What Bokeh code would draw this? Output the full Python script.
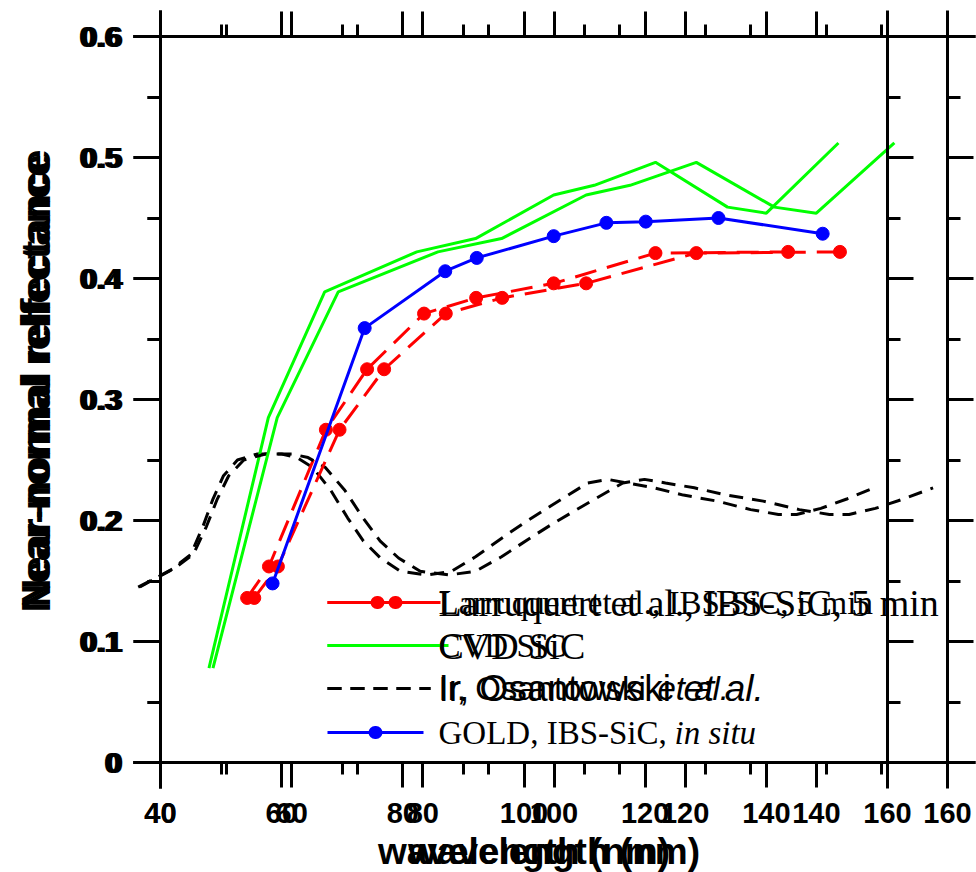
import math
from bokeh.plotting import figure
from bokeh.models import Range1d, LinearAxis, FixedTicker, Label, Arrow
from bokeh.embed import file_html
from bokeh.resources import INLINE

# ---------------- data ----------------
x_ticks = [40, 60, 80, 100, 120, 140, 160]
x_tick_labels = ["40", "60", "80", "100", "120", "140", "160"]
x_minor_ticks = [50, 70, 90, 110, 130, 150]
y_ticks = [0, 0.1, 0.2, 0.3, 0.4, 0.5, 0.6]
y_tick_labels = ["0", "0.1", "0.2", "0.3", "0.4", "0.5", "0.6"]
y_minor_ticks = [0.05, 0.15, 0.25, 0.35, 0.45, 0.55]

red_x = [54.3, 57.9, 67.3, 74.1, 83.5, 92.1, 104.9, 121.7, 143.6]
red_y = [0.136, 0.162, 0.275, 0.325, 0.371, 0.384, 0.396, 0.421, 0.422]

green_x = [48.0, 57.8, 67.1, 82.3, 92.0, 104.9, 111.6, 121.7, 133.6, 140.0, 151.9]
green_y = [0.078, 0.285, 0.389, 0.422, 0.433, 0.469, 0.477, 0.496, 0.459, 0.454, 0.512]

black_x = [36.6, 42.0, 45.0, 47.0, 48.6, 50.4, 52.7, 56.0, 60.0, 62.5, 65.1, 68.1,
           70.9, 73.5, 76.3, 79.6, 84.0, 88.0, 92.0, 96.5, 100.0, 104.4, 110.5,
           113.8, 117.0, 121.4, 126.3, 131.9, 137.4, 142.0, 145.0, 149.0, 153.4, 157.8]
black_y = [0.145, 0.160, 0.172, 0.195, 0.217, 0.237, 0.250, 0.255, 0.255, 0.252, 0.244, 0.225,
           0.202, 0.183, 0.169, 0.158, 0.155, 0.158, 0.170, 0.186, 0.198, 0.212, 0.231,
           0.234, 0.231, 0.227, 0.221, 0.216, 0.209, 0.205, 0.205, 0.210, 0.218, 0.227]

blue_x = [58.5, 73.7, 87.0, 92.2, 104.9, 113.6, 120.1, 132.1, 149.3]
blue_y = [0.148, 0.359, 0.406, 0.417, 0.435, 0.446, 0.447, 0.450, 0.437]

x_title = "wavelength (nm)"
y_title = "Near-normal relfectance"
label_red = "Larruquert et al., IBS-SiC, 5 min"
label_green = "CVD SiC"
label_black = ["Ir, Osantowski", "et al."]
label_blue = ["GOLD, IBS-SiC,", "in situ"]

# ---------------- layout geometry (pixels) ----------------
W, H = 976, 872
PX_X40 = 160                 # x = 40 on both copies
PX_X160_A = 887              # x = 160 on the narrow copy
PX_X160_B = 947              # x = 160 on the wide copy
PX_Y0, PX_Y06 = 762, 36
HL_LEFT, HL_RIGHT = 133, 975  # extent of horizontal axis lines
VL_TOP, VL_BOT = 10, 788      # extent of vertical axis lines

SANS = "Liberation Sans"
SERIF = "Liberation Serif"
RED, GREEN, BLUE = "#ff0000", "#00ff00", "#0000ff"

x0, x1 = x_ticks[0], x_ticks[-1]
sA = (PX_X160_A - PX_X40) / (x1 - x0)
sB = (PX_X160_B - PX_X40) / (x1 - x0)
sy = (PX_Y0 - PX_Y06) / (y_ticks[-1] - y_ticks[0])


def px2x(px, s):
    return x0 + (px - PX_X40) / s


def py2y(py):
    return (PX_Y0 - py) / sy


range_B = Range1d(px2x(0, sB), px2x(W, sB))
range_A = Range1d(px2x(0, sA), px2x(W, sA))
y_range = Range1d(py2y(H), py2y(0))

p = figure(width=W, height=H, x_range=range_B, y_range=y_range,
           output_backend="svg", toolbar_location=None,
           x_axis_type=None, y_axis_type=None, min_border=0)
p.extra_x_ranges = {"a": range_A}
p.outline_line_color = None
p.background_fill_color = "white"
p.border_fill_color = "white"
p.xgrid.visible = False
p.ygrid.visible = False


def style_axis(ax):
    ax.axis_line_width = 3
    ax.axis_line_color = "black"
    ax.major_tick_line_width = 3
    ax.minor_tick_line_width = 3
    ax.major_tick_line_color = "black"
    ax.minor_tick_line_color = "black"
    ax.major_tick_in = 0
    ax.minor_tick_in = 0


for rname, s in (("default", sB), ("a", sA)):
    for side, loc, show in (("below", y_ticks[0], True), ("above", y_ticks[-1], False)):
        ax = LinearAxis(x_range_name=rname, fixed_location=loc,
                        ticker=FixedTicker(ticks=x_ticks, minor_ticks=x_minor_ticks),
                        bounds=(px2x(HL_LEFT, s), px2x(HL_RIGHT, s)))
        style_axis(ax)
        ax.major_tick_out = 25
        ax.minor_tick_out = 12
        ax.major_label_overrides = {t: (l if show else "") for t, l in zip(x_ticks, x_tick_labels)}
        ax.major_label_standoff = 15
        ax.major_label_text_font = SANS
        ax.major_label_text_font_style = "bold"
        ax.major_label_text_font_size = "29px"
        ax.major_label_text_color = "black"
        p.add_layout(ax, side)

# left axis (two copies of its labels, slightly offset) and two right axes
for standoff in (10, 13):
    ax = LinearAxis(fixed_location=x0,
                    ticker=FixedTicker(ticks=y_ticks, minor_ticks=y_minor_ticks),
                    bounds=(py2y(VL_BOT), py2y(VL_TOP)))
    style_axis(ax)
    ax.major_tick_out = 27
    ax.minor_tick_out = 13
    ax.major_label_overrides = {t: l for t, l in zip(y_ticks, y_tick_labels)}
    ax.major_label_standoff = standoff
    ax.major_label_text_font = SANS
    ax.major_label_text_font_style = "bold"
    ax.major_label_text_font_size = "30px"
    ax.major_label_text_color = "black"
    p.add_layout(ax, "left")

for rname in ("a", "default"):
    ax = LinearAxis(x_range_name=rname, fixed_location=x1,
                    ticker=FixedTicker(ticks=y_ticks, minor_ticks=y_minor_ticks),
                    bounds=(py2y(VL_BOT), py2y(VL_TOP)))
    style_axis(ax)
    ax.major_tick_out = 26
    ax.minor_tick_out = 13
    ax.major_label_overrides = {t: "" for t in y_ticks}
    p.add_layout(ax, "right")

# ---------------- series (drawn on both copies of the x scale) ----------------
for rname in ("a", "default"):
    p.line(black_x, black_y, x_range_name=rname, line_color="black", line_width=3,
           line_dash="14 9")
    p.line(green_x, green_y, x_range_name=rname, line_color=GREEN, line_width=3)
    p.line(red_x, red_y, x_range_name=rname, line_color=RED, line_width=3,
           line_dash="22 11")
    p.scatter(red_x, red_y, x_range_name=rname, marker="circle", size=13,
              fill_color=RED, line_color=RED)

p.line(blue_x, blue_y, x_range_name="a", line_color=BLUE, line_width=3)
p.scatter(blue_x, blue_y, x_range_name="a", marker="circle", size=13,
          fill_color=BLUE, line_color=BLUE)

# ---------------- axis titles ----------------
xc = (x0 + x1) / 2
for rname in ("a", "default"):
    p.add_layout(Label(x=xc, x_range_name=rname, y=H - 851, y_units="screen",
                       text=x_title, text_align="center", text_baseline="middle",
                       text_font=SANS, text_font_style="bold", text_font_size="37px",
                       text_color="black"))
for yc in (378, 383):
    p.add_layout(Label(x=35, y=H - yc, x_units="screen", y_units="screen",
                       angle=math.pi / 2, text=y_title, text_align="center",
                       text_baseline="middle", text_font=SANS, text_font_style="bold",
                       text_font_size="40px", text_color="black"))

# ---------------- legends (two overlapping copies) ----------------
rows = [602, 645, 688, 732]
LX0 = 327
TX = 438


def seg(xa, xb, ytop, color, width=3, dash="solid", cap="butt"):
    p.add_layout(Arrow(end=None, x_start=xa, y_start=H - ytop, x_end=xb, y_end=H - ytop,
                       start_units="screen", end_units="screen", line_color=color,
                       line_width=width, line_dash=dash, line_cap=cap))


def dot(xc_, ytop, color):
    seg(xc_ - 0.5, xc_ + 0.5, ytop, color, width=13, cap="round")


def txt(x, ytop, text, font, size, style="normal"):
    p.add_layout(Label(x=x, y=H - ytop, x_units="screen", y_units="screen", text=text,
                       text_align="left", text_baseline="middle", text_font=font,
                       text_font_size=size, text_font_style=style, text_color="black"))


# copy A (4 entries)
seg(LX0, 423, rows[0], RED)
dot(377, rows[0], RED)
txt(TX, rows[0], label_red, SERIF, "33px")
seg(LX0, 423, rows[1], GREEN)
txt(TX, rows[1], label_green, SERIF, "33px")
seg(LX0, 430, rows[2], "black", dash="14 9")
txt(TX, rows[2], label_black[0], SANS, "33px")
txt(TX + 219, rows[2], label_black[1], SANS, "33px", "italic")
seg(LX0, 423, rows[3], BLUE)
dot(375, rows[3], BLUE)
txt(TX, rows[3], label_blue[0], SERIF, "33px")
txt(TX + 236, rows[3], label_blue[1], SERIF, "33px", "italic")

# copy B (3 entries, wider text)
seg(LX0, 440, rows[0], RED)
dot(395, rows[0], RED)
txt(TX, rows[0], label_red, SERIF, "38px")
seg(LX0, 448, rows[1], GREEN)
txt(TX, rows[1], label_green, SERIF, "38px")
seg(LX0, 430, rows[2], "black", dash="14 9")
txt(TX, rows[2], label_black[0], SANS, "37px")
txt(TX + 245, rows[2], label_black[1], SANS, "37px", "italic")

open("out.html", "w").write(file_html(p, INLINE))
